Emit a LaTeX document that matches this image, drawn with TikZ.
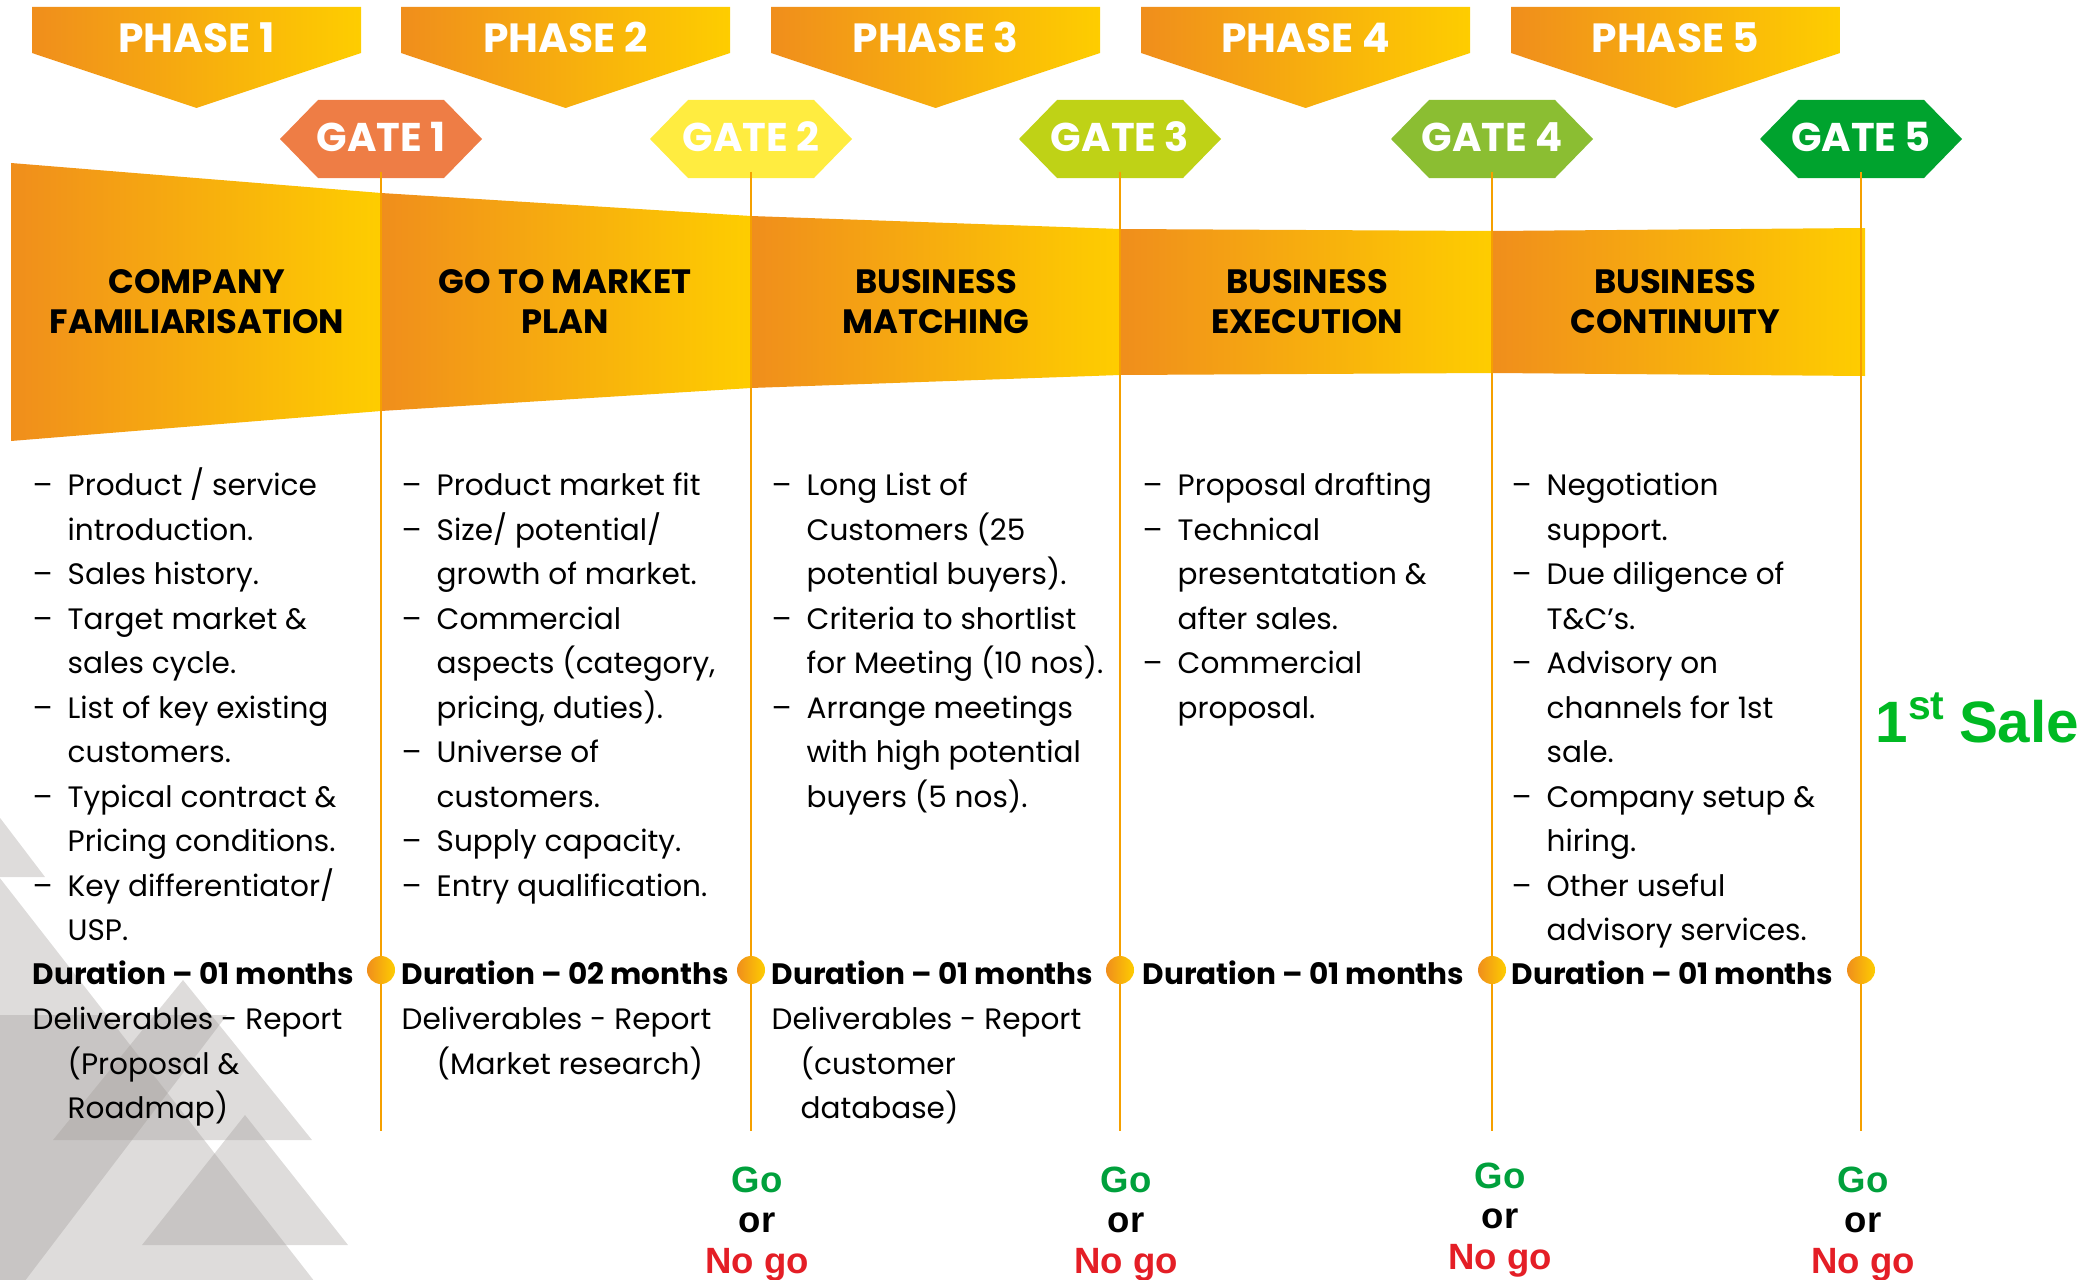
\documentclass[tikz,border=0pt]{standalone}
\usepackage{fontspec}
\setmainfont{Poppins}
\newfontfamily\arialfont{Liberation Sans}
\usetikzlibrary{calc}

\definecolor{phOrange}{RGB}{240,142,28}
\definecolor{phYellow}{RGB}{254,205,0}
\definecolor{gateA}{RGB}{238,125,69}
\definecolor{gateB}{RGB}{255,236,64}
\definecolor{gateC}{RGB}{191,210,22}
\definecolor{gateD}{RGB}{139,190,50}
\definecolor{gateE}{RGB}{0,163,46}
\definecolor{lineOr}{RGB}{245,160,0}
\definecolor{triGray}{RGB}{160,155,152}
\definecolor{goGreen}{RGB}{0,160,60}
\definecolor{nogoRed}{RGB}{228,30,38}
\definecolor{saleGreen}{RGB}{0,185,35}

\tikzset{
  every node/.style={inner sep=0pt},
  phasetxt/.style={anchor=base, text=white, font=\bfseries\fontsize{11.6}{13}\selectfont},
  gatetxt/.style={anchor=base, text=white, font=\bfseries\fontsize{11.4}{13}\selectfont},
  stagetxt/.style={anchor=base, font=\bfseries\fontsize{9.6}{11}\selectfont},
  body/.style={anchor=base west, font=\fontsize{8.4}{10}\selectfont},
  bodybold/.style={anchor=base west, font=\bfseries\fontsize{8.4}{10}\selectfont},
  gateline/.style={draw=lineOr, line width=0.6pt},
  dot/.style={circle, minimum size=0.28cm, left color=phOrange, right color=phYellow},
  decision/.style={anchor=base, font=\arialfont\bfseries\fontsize{10.4}{12}\selectfont},
  tri/.style={fill=triGray, fill opacity=0.35},
}

% one column of bullet lines: name, left x, rows
\newcommand{\stagecolumn}[3]{%
  \foreach \row/\dsh/\txt in {#3} {
    \ifnum\dsh=1 \node[body] (#1d\row) at (#2,495.5+44.5*\row) {–};\fi
    \node[body] (#1t\row) at (#2+35,495.5+44.5*\row) {\txt};
  }}

\begin{document}
\begin{tikzpicture}[x=0.01cm, y=-0.01cm]
  \useasboundingbox (0,0) rectangle (2092,1279);

  % background triangles
  \begin{scope}
    \clip (0,0) rectangle (2092,1279);
    \fill[tri] (-133,877) -- (-44,760) -- (45,877) -- cycle;
    \fill[tri] (-607,1400) -- (-100,750) -- (407,1400) -- cycle;
    \fill[tri] (-267,1015) -- (227,1015) -- (-20,1340) -- cycle;
    \fill[tri] (53,1140) -- (183,980) -- (312,1140) -- cycle;
    \fill[tri] (142,1245) -- (245,1115) -- (348,1245) -- cycle;
  \end{scope}

  % phase banners
  \foreach \i/\x in {1/32, 2/401, 3/771, 4/1141, 5/1511} {
    \shade[left color=phOrange, right color=phYellow]
      (\x,7) -- (\x+329,7) -- (\x+329,53) -- (\x+164.5,108) -- (\x,53) -- cycle;
    \node[phasetxt] (p\i) at (\x+164.5,53) {PHASE \i};
  }

  % funnel
  \foreach \xa/\xb/\ta/\tb/\ba/\bb in {11/381/163/193/441/411, 381/751/193/216/411/388,
      751/1120/216/229/388/375, 1120/1492/229/231/375/373, 1492/1865/231/228/373/376}
    \shade[left color=phOrange, right color=phYellow]
      (\xa,\ta) -- (\xb,\tb) -- (\xb,\bb) -- (\xa,\ba) -- cycle;

  \foreach \i/\x/\la/\lb in {1/197/COMPANY/FAMILIARISATION, 2/565/GO TO MARKET/PLAN,
      3/936/BUSINESS/MATCHING, 4/1307/BUSINESS/EXECUTION, 5/1675/BUSINESS/CONTINUITY} {
    \node[stagetxt] (s\i-top) at (\x,293) {\la};
    \node[stagetxt] (s\i-bot) at (\x,333) {\lb};
  }

  % gates and their lines
  \foreach \i/\x/\c in {1/381/gateA, 2/751/gateB, 3/1120/gateC, 4/1492/gateD, 5/1861/gateE} {
    \fill[\c] (\x-101,139) -- (\x-63,100) -- (\x+63,100) -- (\x+101,139)
      -- (\x+63,178) -- (\x-63,178) -- cycle;
    \node[gatetxt] (g\i) at (\x,152) {GATE \i};
    \coordinate (top\i) at (\x,172);
    \coordinate (end\i) at (\x,1131);
    \draw[gateline] (top\i) -- (end\i);
    \node[dot] (dot\i) at (\x,970) {};
  }

  % activities
  \stagecolumn{c1}{32}{0/1/Product {/} service, 1/0/introduction., 2/1/Sales history.,
    3/1/Target market \&, 4/0/sales cycle., 5/1/List of key existing, 6/0/customers.,
    7/1/Typical contract \&, 8/0/Pricing conditions., 9/1/Key differentiator{/}, 10/0/USP.}
  \stagecolumn{c2}{401}{0/1/Product market fit, 1/1/Size{/} potential{/}, 2/0/growth of market.,
    3/1/Commercial, 4/0/{aspects (category,}, 5/0/{pricing, duties).}, 6/1/Universe of,
    7/0/customers., 8/1/Supply capacity., 9/1/Entry qualification.}
  \stagecolumn{c3}{771}{0/1/Long List of, 1/0/Customers (25, 2/0/potential buyers).,
    3/1/Criteria to shortlist, 4/0/for Meeting (10 nos)., 5/1/Arrange meetings,
    6/0/with high potential, 7/0/buyers (5 nos).}
  \stagecolumn{c4}{1142}{0/1/Proposal drafting, 1/1/Technical, 2/0/presentatation \&,
    3/0/after sales., 4/1/Commercial, 5/0/proposal.}
  \stagecolumn{c5}{1511}{0/1/Negotiation, 1/0/support., 2/1/Due diligence of, 3/0/T\&C’s.,
    4/1/Advisory on, 5/0/channels for 1st, 6/0/sale., 7/1/Company setup \&, 8/0/hiring.,
    9/1/Other useful, 10/0/advisory services.}

  \foreach \i/\x/\m in {1/32/01, 2/401/02, 3/771/01, 4/1142/01, 5/1511/01}
    \node[bodybold] (dur\i) at (\x,984) {Duration – \m\ months};

  \node[body] (del1) at (32,1029.5) {Deliverables - Report};
  \node[body] (del1a) at (67,1074) {(Proposal \&};
  \node[body] (del1b) at (67,1118.5) {Roadmap)};
  \node[body] (del2) at (401,1029.5) {Deliverables - Report};
  \node[body] (del2a) at (436,1074) {(Market research)};
  \node[body] (del3) at (771,1029.5) {Deliverables - Report};
  \node[body] (del3a) at (800,1074) {(customer};
  \node[body] (del3b) at (800,1118.5) {database)};

  % decisions
  \foreach \i/\x/\y in {2/757/1192, 3/1126/1192, 4/1500/1188, 5/1863/1192} {
    \node[decision, text=goGreen] (go\i) at (\x,\y) {Go};
    \node[decision] (or\i) at (\x,\y+40) {or};
    \node[decision, text=nogoRed] (nogo\i) at (\x,\y+81) {No go};
  }

  \node[anchor=base west, text=saleGreen, font=\arialfont\bfseries\fontsize{16.6}{18}\selectfont]
    (sale) at (1875,742) {1\textsuperscript{st}\hspace{-1pt} Sale};
\end{tikzpicture}
\end{document}
